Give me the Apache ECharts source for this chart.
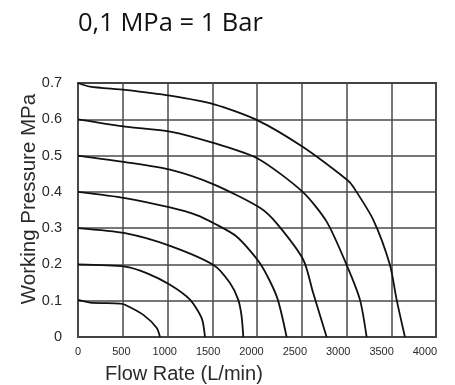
<!DOCTYPE html>
<html>
<head>
<meta charset="utf-8">
<script src="https://cdn.jsdelivr.net/npm/echarts@6/dist/echarts.min.js"></script>
<style>html,body{margin:0;padding:0;background:#fff}#c{width:455px;height:385px}</style>
</head>
<body>
<div id="c"></div>
<script>
// Data: [flow (L/min), working pressure (MPa)]
const curve01 = [[0,0.102],[134,0.095],[469,0.092],[525,0.089],[730,0.061],[880,0.025],[916,0]];
const curve02 = [[0,0.200],[525,0.194],[767,0.176],[1028,0.144],[1251,0.103],[1382,0.052],[1419,0]];
const curve03 = [[0,0.300],[525,0.286],[1028,0.251],[1522,0.197],[1700,0.148],[1790,0.103],[1828,0.057],[1847,0]];
const curve04 = [[0,0.400],[525,0.383],[1028,0.357],[1326,0.336],[1522,0.313],[1772,0.277],[2033,0.203],[2220,0.112],[2331,0]];
const curve05 = [[0,0.500],[525,0.482],[1028,0.461],[1522,0.420],[2033,0.356],[2220,0.313],[2517,0.213],[2628,0.121],[2778,0]];
const curve06 = [[0,0.600],[525,0.580],[1028,0.566],[1522,0.534],[2007,0.492],[2510,0.400],[2778,0.318],[3001,0.199],[3150,0.103],[3225,0]];
const curve07 = [[0,0.700],[134,0.690],[525,0.681],[1028,0.665],[1522,0.641],[2007,0.597],[2510,0.524],[3012,0.432],[3075,0.414],[3299,0.323],[3485,0.199],[3560,0.103],[3653,0]];
const curves = [curve01, curve02, curve03, curve04, curve05, curve06, curve07];

const titleText = '0,1 MPa = 1 Bar';
const xTitle = 'Flow Rate (L/min)';
const yTitle = 'Working Pressure MPa';

const chart = echarts.init(document.getElementById('c'), null, {renderer: 'canvas'});
chart.setOption({
  animation: false,
  backgroundColor: '#fff',
  grid: {left: 78, right: 19, top: 83, bottom: 48, show: true, borderColor: '#333', borderWidth: 1.8},
  xAxis: [
    { // grid axis
      type: 'value', position: 'top', min: 0, max: 4000, interval: 500,
      axisLine: {show: false}, axisTick: {show: false}, axisLabel: {show: false},
      splitLine: {show: true, lineStyle: {color: '#4a4a4a', width: 1.5}}
    },
    { // label axis (as printed, slightly compressed)
      type: 'value', position: 'bottom', min: 0, max: 4127, interval: 500,
      axisLine: {show: false}, axisTick: {show: false}, splitLine: {show: false},
      axisLabel: {
        margin: 9, fontSize: 11, color: '#2a2a2a',
        fontFamily: '"Liberation Sans Narrow", "Liberation Sans", Arial, sans-serif',
        formatter: v => (v % 500 === 0 ? String(v) : '')
      }
    }
  ],
  yAxis: {
    type: 'value', min: 0, max: 0.7, interval: 0.1,
    axisLine: {show: false}, axisTick: {show: false},
    splitLine: {show: true, lineStyle: {color: '#4a4a4a', width: 1.5}},
    axisLabel: {
      margin: 16, fontSize: 14.5, color: '#2a2a2a',
      fontFamily: '"Liberation Sans", Arial, sans-serif',
      formatter: v => (v === 0 ? '0' : v.toFixed(1))
    }
  },
  graphic: [
    {type: 'text', left: 78, top: 11, style: {text: titleText, font: '25.5px "Open Sans", sans-serif', fill: '#111'}},
    {type: 'text', x: 105, y: 374, style: {text: xTitle, font: '20px "Liberation Sans", Arial, sans-serif', fill: '#2a2a2a', textVerticalAlign: 'middle'}},
    {type: 'text', x: 29, y: 199, rotation: Math.PI / 2, style: {text: yTitle, font: '20.5px "Liberation Sans", Arial, sans-serif', fill: '#2a2a2a', textAlign: 'center', textVerticalAlign: 'middle'}}
  ],
  series: curves.map(d => ({
    type: 'line', xAxisIndex: 0, data: d, showSymbol: false, smooth: 0.25,
    lineStyle: {color: '#111', width: 1.8}
  }))
});
</script>
</body>
</html>
